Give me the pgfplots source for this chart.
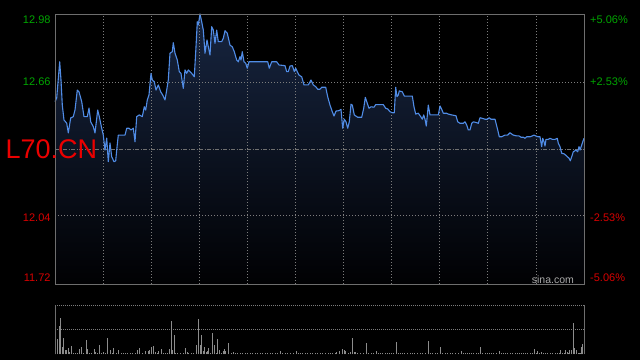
\documentclass[border=0pt]{standalone}
\usepackage{pgfplots}
\usepackage{pgfplotstable}
\pgfplotsset{compat=1.18}
\usepackage{fontspec}
\setmainfont{Liberation Sans}
\definecolor{gridc}{RGB}{125,125,125}
\definecolor{framec}{RGB}{110,110,110}
\definecolor{upg}{RGB}{0,165,0}
\definecolor{dnr}{RGB}{215,0,0}
\definecolor{codec}{RGB}{235,0,0}
\definecolor{linec}{RGB}{80,140,230}
\definecolor{filltop}{RGB}{23,37,64}
\definecolor{fillbot}{RGB}{1,1,3}
\definecolor{volc}{RGB}{140,140,140}
\definecolor{sinac}{RGB}{170,170,170}

\pgfplotstableread{
t price
0 12.571
1.7 12.588
4.7 12.757
6 12.672
7.3 12.555
9 12.485
11.7 12.471
13.3 12.425
15.7 12.495
18.3 12.501
20 12.532
22.3 12.625
24 12.617
26.7 12.571
29 12.501
32.3 12.501
34 12.541
35.7 12.477
38.3 12.454
40 12.425
42.7 12.532
44.3 12.501
46.7 12.447
48.3 12.415
50 12.345
51.7 12.401
53.3 12.291
55 12.378
56.7 12.314
59 12.291
60.7 12.295
61.7 12.345
63.3 12.415
66 12.415
70 12.415
71.7 12.447
74 12.447
76 12.439
78.3 12.447
80 12.384
81.7 12.501
84.3 12.509
87.3 12.501
89.3 12.547
90.7 12.532
92.3 12.579
94 12.602
96 12.703
97.3 12.672
99.3 12.664
101 12.625
103.3 12.649
105.7 12.617
107.7 12.602
110 12.579
111.7 12.625
113.3 12.672
115 12.797
117.3 12.804
118.3 12.846
120 12.797
122.3 12.765
124.3 12.711
126 12.703
128.3 12.633
130 12.719
131.7 12.703
133.3 12.719
136.7 12.703
139.3 12.687
141 12.827
142.3 12.944
143.3 12.929
145 12.980
146.7 12.944
148.3 12.905
150 12.797
152 12.859
153.3 12.827
155 12.789
156.7 12.921
158.3 12.905
160 12.843
161.7 12.905
163.3 12.851
166.7 12.851
168.3 12.867
170 12.902
172.3 12.890
175 12.835
177.3 12.827
179.3 12.804
181.7 12.765
183.3 12.757
185 12.781
186 12.765
187.3 12.804
189 12.757
190.7 12.750
192.3 12.727
194 12.757
212.7 12.757
214.3 12.727
216.7 12.757
221.7 12.757
224 12.742
230 12.739
231.7 12.711
233.3 12.711
235 12.737
237.3 12.739
239.3 12.711
240.7 12.727
242.3 12.711
244 12.695
246.7 12.687
249 12.649
253.3 12.649
256 12.672
258.3 12.649
260.7 12.641
262.7 12.629
265 12.629
266.7 12.638
270.7 12.638
272.7 12.594
275 12.555
277.3 12.524
279 12.504
281 12.527
284 12.529
286 12.535
287.7 12.447
289.3 12.489
291 12.477
292.7 12.447
294.3 12.477
296 12.559
297.3 12.555
299.3 12.509
302.7 12.498
306.7 12.498
308.7 12.540
310.3 12.591
312.3 12.563
314 12.540
316 12.547
319 12.545
320.7 12.557
328.3 12.557
330.7 12.540
332.7 12.537
335 12.524
337.7 12.519
339.3 12.519
340.7 12.638
342 12.594
343.3 12.602
344.3 12.621
347.3 12.617
349.3 12.597
357.3 12.597
359 12.547
360.7 12.513
363.3 12.517
365.7 12.501
367.3 12.489
368.7 12.509
370 12.489
371.3 12.457
373.3 12.555
375 12.509
383.3 12.509
385 12.551
386.7 12.535
388.3 12.517
391.7 12.517
393.3 12.513
396.7 12.509
401 12.505
402.7 12.477
405 12.470
408.3 12.470
410 12.477
411.7 12.462
413.3 12.439
415 12.439
416.7 12.470
418.3 12.477
421.7 12.473
423.3 12.470
425 12.496
427.3 12.493
430 12.489
432.3 12.489
434.3 12.496
436 12.489
440 12.489
442.7 12.439
444.3 12.407
446.7 12.407
450 12.415
452.7 12.415
455 12.426
456.7 12.420
458.3 12.415
461.7 12.411
464 12.411
466 12.405
468.3 12.405
470 12.400
471.7 12.407
475 12.407
477.3 12.411
479 12.415
480.7 12.411
483.3 12.407
485 12.407
486.7 12.361
487.7 12.400
489 12.384
490 12.364
491 12.395
493.3 12.395
495 12.400
497.3 12.395
500 12.395
502.3 12.400
503.3 12.377
505 12.361
506.7 12.330
509.3 12.327
511.7 12.317
514 12.307
515.3 12.295
516.7 12.314
518.3 12.337
521 12.345
522.7 12.337
524 12.361
525 12.345
526.7 12.369
529 12.400
}\pricetab

\pgfplotstableread{
t vol
0 37
2.3 31
4.3 57
5.3 73
7 15
8.3 33
10.3 9
11.7 9
13.3 13
14.7 5
16.3 17
18 2
20 2
22.3 2
24 11
26.3 15
28.3 3
31.3 29
32.3 11
34.3 2
36.5 2
39.3 11
40.7 5
42.5 2
44.3 19
46.5 2
48.3 5
50.5 2
52.3 33
55.3 9
57 2
58.3 13
61 3
63.3 9
66 2
68 2
70 2
72.5 2
75 2
77.5 2
80 2
82.3 9
84.3 13
87.3 2
90.3 7
93.3 6
94.3 9
96.7 15
98.3 17
100.3 5
102 3
103.7 6
106.3 10
108.3 3
110.3 2
112.3 2
114.3 11
116.3 68
117.3 9
119 39
120.3 2
122.5 2
125 2
128.3 2
130.3 13
132.3 5
133.7 2
136 2
138.3 2
141.3 19
143.3 71
145.3 19
146.3 39
148.3 7
149.3 15
151 5
152.3 7
153.3 13
155.3 3
157.3 43
159.3 19
161.3 3
162.3 31
164.3 9
166.3 3
168.3 7
169.3 11
170.3 7
173.3 23
176 3
178.3 5
180.3 3
182.5 2
185 2
187.5 2
190 2
192.5 2
195 3
197.5 2
200 2
202.5 2
205 2
207.5 2
210 2
212.5 2
215 3
217.5 2
220 2
222.5 2
225.3 7
227.5 2
230 2
232.5 2
235 2
238 2
241.3 7
243 2
245.3 3
247.5 2
250 2
252.5 2
255 2
257.5 2
260 2
262.5 2
265 2
267.5 2
270 2
273.3 3
275 2
277.5 2
280 2
281.3 5
284 7
287 11
289 9
290.3 7
293 3
295 5
297.3 33
299 5
300.3 5
302.3 2
305 2
308 2
311.3 23
313.3 3
316.3 2
318.5 2
321.3 7
323.5 2
325.3 2
327.5 2
330 2
332.3 2
334 2
336 2
338.5 2
341.3 25
343 2
345 2
347 2
349.3 3
352 2
355 2
357 2
359.3 3
362 2
365 2
367.5 2
370 2
373.3 27
375.5 2
377.3 2
380 2
382 2
385.3 15
387.5 2
390 2
392.5 2
395 2
397.5 2
400 2
403 2
406.3 7
408 2
410 2
412 2
414.3 2
416.5 2
418.3 3
421 2
423 2
425.3 15
427.5 2
430 2
432 2
434 2
436 2
438.3 3
441 2
444.3 7
446 2
448 2
450.3 2
452.5 2
455 3
457.5 2
460.3 2
462 2
464 2
466.3 3
468 2
470 2
472.5 2
475 3
477 2
479.3 11
481 2
482.3 7
484.5 2
486.3 5
488 2
490 2
492.5 2
495 2
497.5 2
500 2
502.3 2
504 2
505.3 9
507 2
509 2
510.3 9
512.3 5
513.3 2
514.3 9
516.3 9
518.3 63
519.7 13
521.3 9
523 2
524.3 2
525.3 2
526.3 15
527.3 21
}\voltab

\begin{document}
\begin{tikzpicture}[x=1pt,y=1pt]
\fill[black] (0,0) rectangle (640,360);
\path[use as bounding box] (0,0) rectangle (640,360);

% price panel
\begin{axis}[
  at={(55pt,76pt)}, anchor=south west, scale only axis,
  width=529pt, height=270pt,
  xmin=0, xmax=529, ymin=11.72, ymax=12.98,
  axis line style={draw=framec, line width=0.8pt},
  xtick=\empty, ytick=\empty,
  clip=false,
  axis on top,
]
\addplot[draw=none, top color=filltop, bottom color=fillbot] table[x=t,y=price] {\pricetab} \closedcycle;
\pgfplotsinvokeforeach{48.09,96.18,144.27,192.36,240.45,288.55,336.64,384.73,432.82,480.91}{
  \draw[gridc, line width=0.7pt, dash pattern=on 1pt off 2pt] (axis cs:#1,11.72) -- (axis cs:#1,12.98);
}
\draw[gridc, line width=0.7pt, dash pattern=on 1pt off 2pt] (axis cs:0,12.04) -- (axis cs:529,12.04);
\draw[gridc, line width=0.7pt, dash pattern=on 1pt off 2pt] (axis cs:0,12.66) -- (axis cs:529,12.66);
\draw[gridc!110, line width=0.8pt, dash pattern=on 4pt off 1.5pt on 1pt off 1.5pt] (axis cs:0,12.35) -- (axis cs:529,12.35);
\addplot[draw=linec, line width=1.1pt, line join=round] table[x=t,y=price] {\pricetab};
\end{axis}

% volume panel
\begin{axis}[
  at={(55pt,5.7pt)}, anchor=south west, scale only axis,
  width=529pt, height=49.3pt,
  xmin=0, xmax=529, ymin=0, ymax=100,
  axis line style={draw=none},
  xtick=\empty, ytick={50,100},
  yticklabel=\empty, major tick length=0pt,
  ymajorgrids,
  major grid style={draw=gridc, line width=0.9pt, dash pattern=on 1pt off 1pt},
  clip=false,
]
\addplot[ycomb, draw=volc, line width=0.9pt] table[x=t,y=vol] {\voltab};
\draw[framec, line width=0.8pt] (rel axis cs:0,0) -- (rel axis cs:0,1);
\draw[framec, line width=0.8pt] (rel axis cs:1,0) -- (rel axis cs:1,1);
\end{axis}

% labels
\begin{scope}[every node/.style={font=\fontsize{11}{11}\selectfont, inner sep=0pt}]
\node[anchor=east, text=upg] at (50.7,340) {12.98};
\node[anchor=east, text=upg] at (50.7,278.3) {12.66};
\node[anchor=east, text=dnr] at (50.7,142.7) {12.04};
\node[anchor=east, text=dnr] at (50.7,82.3) {11.72};
\node[anchor=west, text=upg] at (590,340) {+5.06\%};
\node[anchor=west, text=upg] at (590,278.3) {+2.53\%};
\node[anchor=west, text=dnr] at (590,142.7) {-2.53\%};
\node[anchor=west, text=dnr] at (590,82.3) {-5.06\%};
\end{scope}
\node[anchor=base west, inner sep=0pt, text=sinac, font=\fontsize{10.5}{10.5}\selectfont] at (531.7,77) {sina.com};
\node[anchor=west, inner sep=0pt, text=codec, font=\fontsize{27}{27}\selectfont] at (5.5,210.3) {L70.CN};
\end{tikzpicture}
\end{document}
